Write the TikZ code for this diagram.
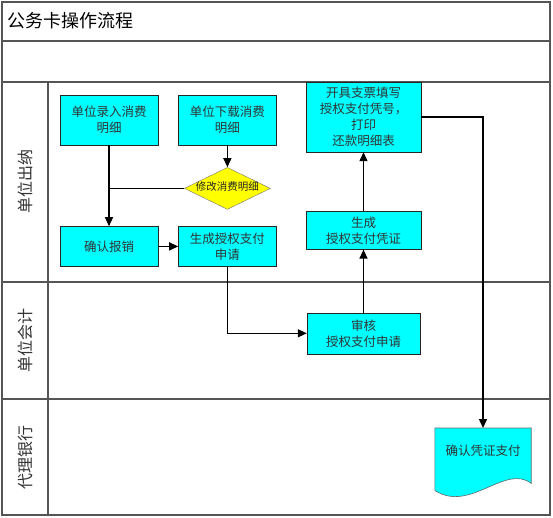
\documentclass[tikz,border=0pt]{standalone}
\usepackage{fontspec}
\setmainfont{Noto Sans CJK SC}
\usetikzlibrary{shapes.geometric,arrows.meta,positioning,backgrounds,calc}
\definecolor{boxcyan}{RGB}{0,255,255}
\definecolor{boxyellow}{RGB}{255,255,0}
\definecolor{lanegray}{RGB}{85,85,85}
\begin{document}
\begin{tikzpicture}[
      x=1pt, y=-1pt,
      node distance=20pt,
      block/.style={draw=black!85, fill=boxcyan, minimum width=98pt, minimum height=50pt, inner sep=1pt, align=center, font=\fontsize{12.5}{16}\selectfont, text=black!80},
      check/.style={diamond, aspect=2.05, draw=black!55, fill=boxyellow, minimum width=86pt, minimum height=42pt, inner sep=0pt, text height=6pt, text depth=1pt, font=\fontsize{10.5}{12}\selectfont, text=black!85},
      arrow/.style={-{Triangle[length=9pt,width=8pt]}, line width=1.4pt},
      link/.style={line width=1.4pt},
      lane/.style={draw=lanegray, line width=1.2pt},
      lanelabel/.style={rotate=90, font=\fontsize{16}{18}\selectfont, text=black!80}
    ]
      \useasboundingbox (0,0) rectangle (553,518);

      % Swimlane frame
      \draw[lane] (2,2) rectangle (550,515);
      \draw[lane] (2,41) -- (550,41);
      \draw[lane] (2,82) -- (550,82);
      \draw[lane] (48,82) -- (48,515);
      \draw[lane] (2,282) -- (550,282);
      \draw[lane] (2,399) -- (550,399);

      \node[anchor=west, font=\fontsize{18}{20}\selectfont] (title) at (4,21) {公务卡操作流程};
      \node[lanelabel] (cashier) at (25,182) {单位出纳};
      \node[lanelabel] (account) at (25,340) {单位会计};
      \node[lanelabel] (bank) at (25,457) {代理银行};

      % Cashier lane
      \node[block] (lr) at (109,120) {单位录入消费\\明细};
      \node[block, right=20pt of lr] (xz) {单位下载消费\\明细};
      \node[check, below=22pt of xz] (xg) {修改消费明细};
      \node[block, below=81pt of lr, minimum height=40pt] (qr) {确认报销};
      \node[block, right=20pt of qr, minimum height=40pt] (sq) {生成授权支付\\申请};

      \node[block, minimum width=115pt, minimum height=70pt] (kj) at (363.5,117) {开具支票填写\\授权支付凭号，\\打印\\还款明细表};
      \node[block, below=59pt of kj, minimum width=115pt, minimum height=38pt] (pz) {生成\\授权支付凭证};

      % Accountant lane
      \node[block, below=63pt of pz, minimum width=113pt, minimum height=41pt] (sh) {审核\\授权支付申请};

      % Bank lane
      \node[minimum width=96pt, minimum height=46pt, inner sep=1pt, anchor=north, font=\fontsize{12.5}{16}\selectfont, text=black!80] (doc) at (483,428) {确认凭证支付};
      \begin{scope}[on background layer]
        \filldraw[draw=black!60, fill=boxcyan, line width=0.6pt] (doc.north west) -- (doc.north east)
          -- ($(doc.south east)+(0,-9pt)$)
          .. controls ($(doc.south east)+(-26pt,11pt)$) and ($(doc.south west)+(35pt,-39pt)$) .. ($(doc.south west)+(0,-16pt)$)
          -- cycle;
      \end{scope}

      % Connectors
      \draw[arrow] (lr) -- (qr);
      \draw[arrow] (xz) -- (xg);
      \draw[link] (xg.west) -- (xg.west -| lr.south);
      \draw[arrow] (qr) -- (sq);
      \draw[arrow] (sq.south) |- (sh.west);
      \draw[arrow] (sh) -- (pz);
      \draw[arrow] (pz) -- (kj);
      \draw[arrow] (kj.east) -| (doc.north);
    \end{tikzpicture}
\end{document}
